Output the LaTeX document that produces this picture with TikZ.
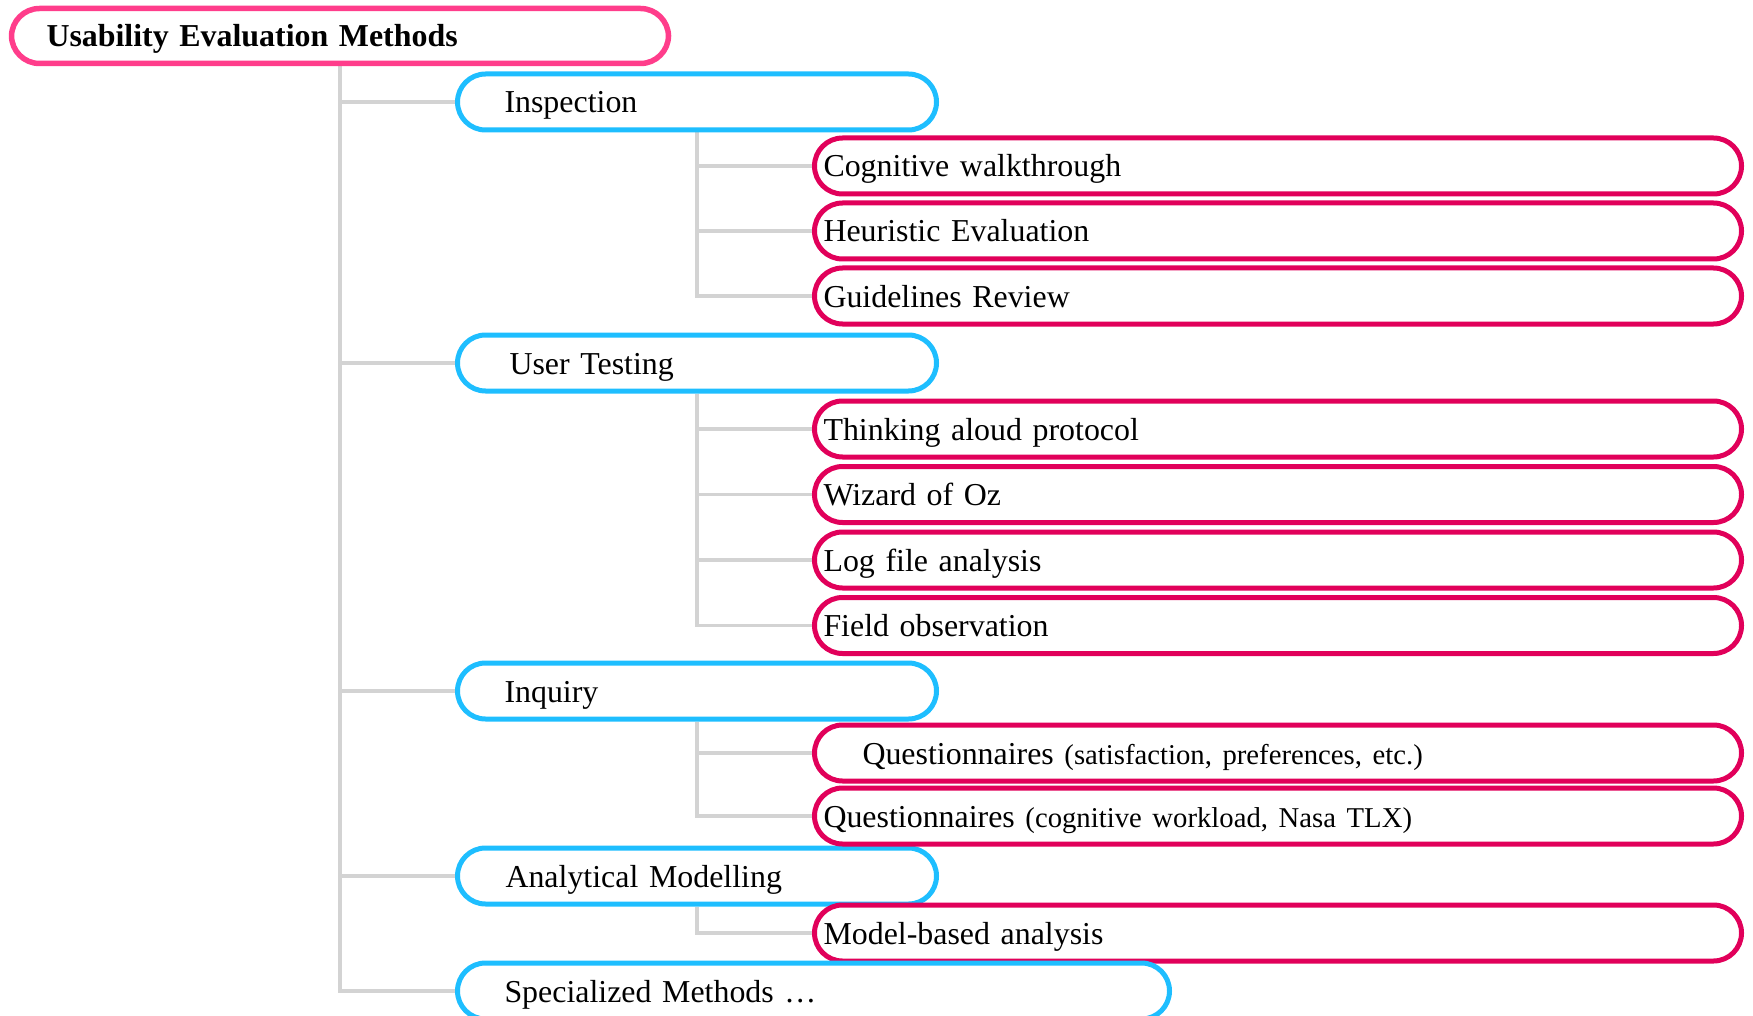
\documentclass[tikz,border=0pt]{standalone}
\usepackage{fontspec}
\setmainfont{Liberation Serif}
\usetikzlibrary{backgrounds}
\definecolor{rootpink}{HTML}{FF3D8B}
\definecolor{lvblue}{HTML}{1EBEFF}
\definecolor{lvred}{HTML}{E1005A}
\definecolor{conngray}{HTML}{D3D3D3}
\tikzset{
  basebox/.style={draw, fill=white, rounded corners=28pt, minimum height=56pt,
    text height=30pt, text depth=8pt, align=left,
    font=\fontsize{31.9}{38}\selectfont},
  rootbox/.style={basebox, draw=rootpink, line width=5.5pt, minimum width=657pt,
    minimum height=55pt, inner xsep=35pt, text width=587pt,
    font=\fontsize{31.9}{38}\selectfont\bfseries},
  catbox/.style={basebox, draw=lvblue, line width=5pt, minimum width=479pt,
    inner xsep=47pt, text width=385pt},
  widecat/.style={catbox, minimum width=712pt, text width=618pt},
  leafbox/.style={basebox, draw=lvred, line width=5pt, minimum width=927pt,
    inner xsep=9pt, text width=909pt},
  conn/.style={draw=conngray, line width=3.8pt}
}
\newcommand{\smalltext}[1]{{\fontsize{28.7}{34}\selectfont #1}}
\begin{document}
\begin{tikzpicture}[x=1pt,y=-1pt]
\useasboundingbox (0,0) rectangle (1753,1016);
\node[rootbox] (root) at (340,36) {Usability Evaluation Methods};
\node[catbox] (insp) at (697,102) {Inspection};
\node[catbox] (user) at (697,363) {\hspace*{5pt}User Testing};
\node[catbox] (inq) at (697,691) {Inquiry};
\node[catbox] (anal) at (697,876) {\hspace*{1pt}Analytical Modelling};
\node[leafbox] (cog) at (1278,166) {Cognitive walkthrough};
\node[leafbox] (heu) at (1278,231) {Heuristic Evaluation};
\node[leafbox] (gui) at (1278,296) {Guidelines Review};
\node[leafbox] (think) at (1278,429) {Thinking aloud protocol};
\node[leafbox] (wiz) at (1278,494.5) {Wizard of Oz};
\node[leafbox] (log) at (1278,560) {Log file analysis};
\node[leafbox] (field) at (1278,625.5) {Field observation};
\node[leafbox] (q1) at (1278,753) {\hspace*{39pt}Questionnaires \smalltext{(satisfaction, preferences, etc.)}};
\node[leafbox] (q2) at (1278,816) {Questionnaires \smalltext{(cognitive workload, Nasa TLX)}};
\node[leafbox] (model) at (1278,933) {Model-based analysis};
\node[widecat] (spec) at (813.5,991) {Specialized Methods \dots};
\begin{scope}[on background layer]
  \foreach \c in {insp,user,inq,anal,spec}
    \draw[conn] (root.south) |- (\c.west);
  \foreach \c in {cog,heu,gui}
    \draw[conn] (insp.south) |- (\c.west);
  \foreach \c in {think,wiz,log,field}
    \draw[conn] (user.south) |- (\c.west);
  \foreach \c in {q1,q2}
    \draw[conn] (inq.south) |- (\c.west);
  \draw[conn] (anal.south) |- (model.west);
\end{scope}
\end{tikzpicture}
\end{document}
